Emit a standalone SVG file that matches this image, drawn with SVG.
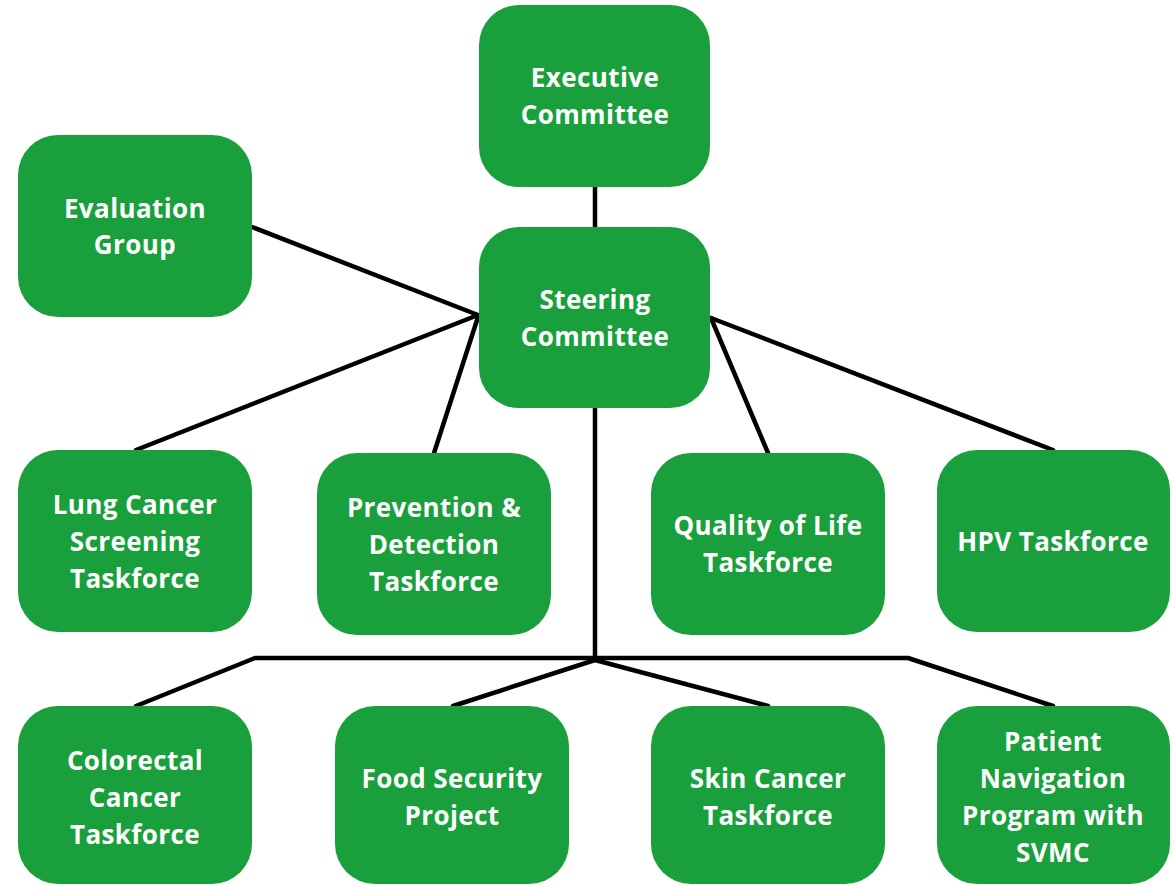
<svg xmlns="http://www.w3.org/2000/svg" width="1173" height="886" viewBox="0 0 1173 886">
<style>
.box{fill:#1a9f3d}
.t{fill:#ffffff;font-family:"Open Sans","Liberation Sans",sans-serif;font-weight:700;font-size:26px;letter-spacing:0.4px;text-anchor:middle}
.c{stroke:#000;stroke-width:4.5;fill:none;stroke-linecap:round;stroke-linejoin:round}
</style>
<rect width="1173" height="886" fill="#ffffff"/>
<g id="connectors">
<line class="c" x1="595" y1="187" x2="595" y2="227"/>
<line class="c" x1="252" y1="227" x2="478" y2="315"/>
<line class="c" x1="136" y1="450" x2="478" y2="315"/>
<line class="c" x1="434" y1="453" x2="478" y2="317"/>
<line class="c" x1="711" y1="318" x2="768" y2="453"/>
<line class="c" x1="711" y1="318" x2="1053" y2="450"/>
<line class="c" x1="595" y1="408" x2="595" y2="660"/>
<polyline class="c" points="136,706 255,658 908,658 1053,706"/>
<polyline class="c" points="453,706 595,660 768,706"/>
</g>
<g id="executive"><rect class="box" x="479" y="5" width="231" height="182" rx="40"/>
<text class="t" x="595" y="87">Executive</text><text class="t" x="595" y="124">Committee</text></g>
<g id="evaluation"><rect class="box" x="18" y="135" width="234" height="182" rx="40"/>
<text class="t" x="135" y="218">Evaluation</text><text class="t" x="135" y="254">Group</text></g>
<g id="steering"><rect class="box" x="479" y="227" width="231" height="181" rx="40"/>
<text class="t" x="595" y="309">Steering</text><text class="t" x="595" y="346">Committee</text></g>
<g id="lung"><rect class="box" x="18" y="450" width="234" height="182" rx="40"/>
<text class="t" x="135" y="514">Lung Cancer</text><text class="t" x="135" y="551">Screening</text><text class="t" x="135" y="588">Taskforce</text></g>
<g id="prevention"><rect class="box" x="317" y="453" width="234" height="182" rx="40"/>
<text class="t" x="434" y="517">Prevention &amp;</text><text class="t" x="434" y="554">Detection</text><text class="t" x="434" y="591">Taskforce</text></g>
<g id="quality"><rect class="box" x="651" y="453" width="234" height="182" rx="40"/>
<text class="t" x="768" y="535">Quality of Life</text><text class="t" x="768" y="572">Taskforce</text></g>
<g id="hpv"><rect class="box" x="937" y="450" width="233" height="182" rx="40"/>
<text class="t" x="1053" y="551">HPV Taskforce</text></g>
<g id="colorectal"><rect class="box" x="18" y="706" width="234" height="178" rx="40"/>
<text class="t" x="135" y="770">Colorectal</text><text class="t" x="135" y="807">Cancer</text><text class="t" x="135" y="844">Taskforce</text></g>
<g id="food"><rect class="box" x="335" y="706" width="234" height="178" rx="40"/>
<text class="t" x="452" y="788">Food Security</text><text class="t" x="452" y="825">Project</text></g>
<g id="skin"><rect class="box" x="651" y="706" width="234" height="178" rx="40"/>
<text class="t" x="768" y="788">Skin Cancer</text><text class="t" x="768" y="825">Taskforce</text></g>
<g id="patient"><rect class="box" x="937" y="706" width="233" height="178" rx="40"/>
<text class="t" x="1053" y="751">Patient</text><text class="t" x="1053" y="788">Navigation</text><text class="t" x="1053" y="825">Program with</text><text class="t" x="1053" y="862">SVMC</text></g>
</svg>
